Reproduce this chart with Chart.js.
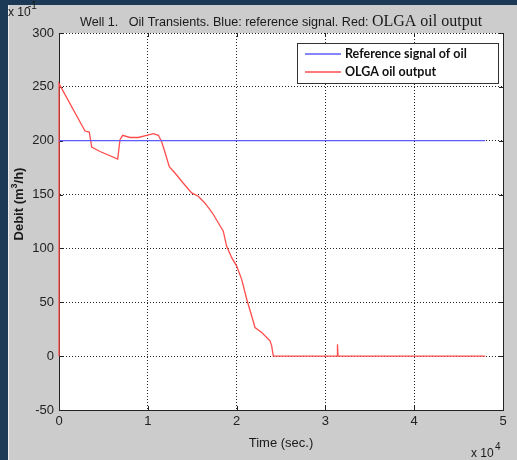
<!DOCTYPE html>
<html>
<head>
<meta charset="utf-8">
<script src="https://cdn.jsdelivr.net/npm/chart.js@4.4.0/dist/chart.umd.min.js"></script>
<style>
  html, body { margin: 0; padding: 0; background: #1c3a56; }
  #figure { position: absolute; left: 8px; top: 5px; width: 509px; height: 455px; background: #cccccc; border-left: 1px solid #eeeeee; }
  #wrap { position: absolute; left: 0; top: 0; width: 517px; height: 460px; }
</style>
</head>
<body>
<div id="figure"></div>
<div id="wrap"><canvas id="oilChart" width="517" height="460"></canvas></div>
<script>
// Well 1 oil transients (time in seconds, debit in units of 1e-1 m3/h)
const refTime  = [0, 48000];
const refDebit = [200, 200];

const olgaTime  = [0, 0, 2930, 3410, 3680, 4620, 6610, 6870, 7170, 8000, 8930, 9870, 10620, 11190, 11560,
                   11940, 12420, 13060, 14000, 14940, 15690, 16440, 17000, 17380, 18500, 18880, 19450, 20010,
                   20570, 21140, 21700, 22070, 22830, 23760, 23950, 24130, 24200, 31330, 31360, 31420, 48000];
const olgaDebit = [0, 253, 209, 208, 194, 190, 183, 201, 205, 203, 203, 205, 206.5, 205, 199,
                   189, 176, 170, 160.5, 151.5, 148.5, 142, 136, 131.5, 116, 102, 91.4, 83.6,
                   71.3, 52.8, 37.3, 26.6, 22, 14.2, 9.5, 0.3, 0, 0, 11, 0, 0];

const xTicks = [0, 10000, 20000, 30000, 40000, 50000];
const yTicks = [-50, 0, 50, 100, 150, 200, 250, 300];

const SANS = "'Liberation Sans', Arial, sans-serif";
const toPoints = (xs, ys) => xs.map((x, i) => ({x, y: ys[i]}));

// white axes box, solid frame on left/bottom/right and short inward tick marks
const axesBox = {
  id: "axesBox",
  beforeDraw(chart) {
    const {ctx, chartArea: a} = chart;
    ctx.save();
    ctx.fillStyle = "#ffffff";
    ctx.fillRect(a.left, a.top, a.right - a.left, a.bottom - a.top);
    ctx.restore();
  },
  beforeDatasetsDraw(chart) {
    const {ctx, chartArea: a, scales} = chart;
    ctx.save();
    ctx.strokeStyle = "#222";
    ctx.lineWidth = 1;
    ctx.beginPath();
    ctx.moveTo(Math.round(a.left) + 0.5, a.top);
    ctx.lineTo(Math.round(a.left) + 0.5, Math.round(a.bottom) + 0.5);
    ctx.lineTo(Math.round(a.right) + 0.5, Math.round(a.bottom) + 0.5);
    ctx.lineTo(Math.round(a.right) + 0.5, a.top);
    xTicks.forEach(v => {
      const px = Math.round(scales.x.getPixelForValue(v)) + 0.5;
      ctx.moveTo(px, a.bottom); ctx.lineTo(px, a.bottom - 4);
      ctx.moveTo(px, a.top); ctx.lineTo(px, a.top + 4);
    });
    yTicks.forEach(v => {
      const py = Math.round(scales.y.getPixelForValue(v)) + 0.5;
      ctx.moveTo(a.left, py); ctx.lineTo(a.left + 4, py);
      ctx.moveTo(a.right, py); ctx.lineTo(a.right - 4, py);
    });
    ctx.stroke();
    ctx.restore();
  }
};

// title with mixed fonts, exponent markers, y label and the boxed legend
const decorations = {
  id: "decorations",
  afterDraw(chart) {
    const {ctx} = chart;
    ctx.save();
    ctx.fillStyle = "#1a1a1a";
    ctx.textBaseline = "alphabetic";

    // title
    let x = 80;
    const parts = [
      ["Well 1.   Oil Transients. Blue: reference signal. Red: ", "12.6px " + SANS],
      ["OLGA oil output", "16px 'Liberation Serif', 'Times New Roman', serif"]
    ];
    parts.forEach(([txt, font]) => {
      ctx.font = font;
      ctx.textAlign = "left";
      ctx.fillText(txt, x, 26);
      x += ctx.measureText(txt).width;
    });

    // axis multipliers
    ctx.font = "12px " + SANS;
    ctx.fillText("x 10", 8, 16);
    ctx.font = "10px " + SANS;
    ctx.fillText("-1", 28, 9);
    ctx.font = "12px " + SANS;
    ctx.fillText("x 10", 471, 457);
    ctx.font = "10px " + SANS;
    ctx.fillText("4", 495, 450);

    // y axis label
    ctx.translate(19, 204);
    ctx.rotate(-Math.PI / 2);
    ctx.textBaseline = "middle";
    ctx.font = "bold 13px " + SANS;
    const pre = "Debit (m", sup = "3", post = "/h)";
    const wPre = ctx.measureText(pre).width;
    ctx.font = "bold 9px " + SANS;
    const wSup = ctx.measureText(sup).width;
    ctx.font = "bold 13px " + SANS;
    const wPost = ctx.measureText(post).width;
    let lx = -(wPre + wSup + wPost) / 2;
    ctx.textAlign = "left";
    ctx.fillText(pre, lx, 0);
    ctx.font = "bold 9px " + SANS;
    ctx.fillText(sup, lx + wPre, -4);
    ctx.font = "bold 13px " + SANS;
    ctx.fillText(post, lx + wPre + wSup, 0);
    ctx.setTransform(1, 0, 0, 1, 0, 0);

    // legend box
    const bx = 297.5, by = 43.5, bw = 201, bh = 40;
    ctx.fillStyle = "#ffffff";
    ctx.fillRect(bx, by, bw, bh);
    ctx.strokeStyle = "#333";
    ctx.lineWidth = 1;
    ctx.strokeRect(bx, by, bw, bh);
    chart.data.datasets.forEach((ds, i) => {
      const ly = 54 + i * 18;
      ctx.strokeStyle = ds.borderColor;
      ctx.lineWidth = 1.3;
      ctx.beginPath();
      ctx.moveTo(305, ly); ctx.lineTo(341, ly);
      ctx.stroke();
      ctx.fillStyle = "#111";
      ctx.font = "bold 12.5px Lato, 'Open Sans', sans-serif";
      ctx.textBaseline = "middle";
      ctx.fillText(ds.label, 345, ly);
    });
    ctx.restore();
  }
};

new Chart(document.getElementById("oilChart"), {
  type: "line",
  data: {
    datasets: [
      {label: "Reference signal of oil", data: toPoints(refTime, refDebit), borderColor: "#5c5cff", borderWidth: 1.3, pointRadius: 0, tension: 0, clip: 3},
      {label: "OLGA oil output", data: toPoints(olgaTime, olgaDebit), borderColor: "#ff4d4d", borderWidth: 1.3, pointRadius: 0, tension: 0, clip: 3}
    ]
  },
  options: {
    responsive: false, animation: false,
    layout: { padding: {left: 0, right: 14, top: 33, bottom: 0} },
    plugins: { legend: { display: false }, tooltip: { enabled: false } },
    scales: {
      x: {
        type: "linear", min: 0, max: 50000,
        afterFit: (s) => { s.height = 50; },
        afterBuildTicks: (s) => { s.ticks = xTicks.map(v => ({value: v})); },
        ticks: { color: "#222", font: { size: 13, family: SANS }, padding: 4, maxRotation: 0, callback: (v) => v / 10000 },
        grid: { color: "#222", lineWidth: 1, drawTicks: false },
        border: { display: true, color: "#222", dash: [1, 2] },
        title: { display: true, text: "Time (sec.)", color: "#1a1a1a", font: { size: 13, family: SANS }, padding: {top: 0, bottom: 9} }
      },
      y: {
        min: -50, max: 300,
        afterFit: (s) => { s.width = 59; },
        afterBuildTicks: (s) => { s.ticks = yTicks.map(v => ({value: v})); },
        ticks: { color: "#222", font: { size: 13, family: SANS }, padding: 5 },
        grid: { color: "#222", lineWidth: 1, drawTicks: false },
        border: { display: true, color: "#222", dash: [1, 2] }
      }
    }
  },
  plugins: [axesBox, decorations]
});
</script>
</body>
</html>
